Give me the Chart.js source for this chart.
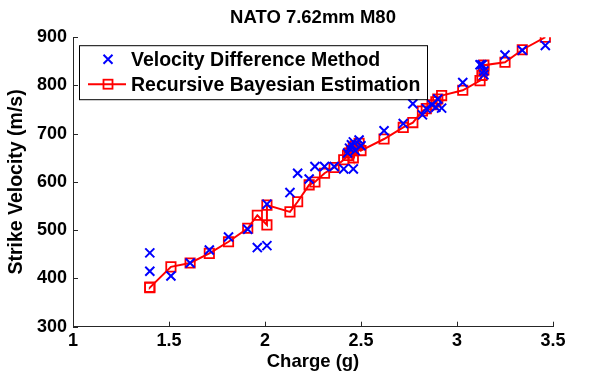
<!DOCTYPE html>
<html>
<head>
<meta charset="utf-8">
<script src="https://cdn.jsdelivr.net/npm/chart.js@4"></script>
<style>
  html, body { margin: 0; padding: 0; background: #fff; }
  #wrap { width: 591px; height: 377px; }
</style>
</head>
<body>
<div id="wrap"><canvas id="chart" width="591" height="377"></canvas></div>
<script>
// Datos
const charge = [1.40, 1.40, 1.51, 1.61, 1.71, 1.81, 1.91, 1.96, 2.01, 2.01,
  2.13, 2.17, 2.23, 2.26, 2.31, 2.36, 2.41, 2.43, 2.44, 2.45,
  2.46, 2.46, 2.47, 2.49, 2.50, 2.62, 2.72, 2.77, 2.82, 2.84,
  2.87, 2.89, 2.90, 2.92, 3.03, 3.12, 3.13, 3.14, 3.14, 3.25,
  3.34, 3.46];
const velocityDiff = [453, 415, 405, 432, 459, 486, 502, 464, 468, 554,
  578, 618, 606, 632, 632, 632, 627, 660, 670, 677,
  627, 683, 665, 687, 675, 706, 721, 762, 739, 752,
  760, 755, 772, 753, 806, 843, 843, 830, 822, 863,
  873, 883];
const bayesian = [382, 381, 424, 432, 452, 476, 504, 531, 511, 552,
  538, 559, 594, 600, 618, 630, 646, 655, 660, 665,
  650, 670, 675, 680, 665, 689, 713, 723, 747, 752,
  760, 766, 772, 779, 790, 810, 821, 832, 842, 848,
  874, 900];
const xTicks = { min: 1, max: 3.5, step: 0.5 };
const yTicks = { min: 300, max: 900, step: 100 };
const seriesNames = ['Velocity Difference Method', 'Recursive Bayesian Estimation'];

const FONT = "'Liberation Sans', Arial, sans-serif";
const BLUE = '#0000ff';
const RED = '#ff0000';

// Marcas de escala hacia dentro (estilo MATLAB)
const inwardTicks = {
  id: 'inwardTicks',
  afterDraw(chart) {
    const { ctx, chartArea, scales } = chart;
    ctx.save();
    ctx.strokeStyle = '#262626';
    ctx.lineWidth = 1;
    ctx.beginPath();
    scales.x.ticks.forEach(t => {
      const px = Math.round(scales.x.getPixelForValue(t.value)) + 0.5;
      ctx.moveTo(px, chartArea.bottom);
      ctx.lineTo(px, chartArea.bottom - 5);
    });
    scales.y.ticks.forEach(t => {
      const py = Math.round(scales.y.getPixelForValue(t.value)) + 0.5;
      ctx.moveTo(chartArea.left, py);
      ctx.lineTo(chartArea.left + 5, py);
    });
    ctx.stroke();
    ctx.restore();
  }
};

// Leyenda con recuadro
const boxedLegend = {
  id: 'boxedLegend',
  afterDraw(chart) {
    const { ctx, chartArea } = chart;
    const x0 = chartArea.left + 6, y0 = chartArea.top + 8;
    const w = 348, h = 54;
    ctx.save();
    ctx.fillStyle = '#fff';
    ctx.fillRect(x0, y0, w, h);
    ctx.strokeStyle = '#000';
    ctx.lineWidth = 1;
    ctx.strokeRect(x0 + 0.5, y0 + 0.5, w, h);

    const row1 = y0 + 14, row2 = y0 + 39;
    const mx = x0 + 29;
    // cruz azul
    ctx.strokeStyle = BLUE;
    ctx.lineWidth = 2;
    ctx.beginPath();
    ctx.moveTo(mx - 4.5, row1 - 4.5); ctx.lineTo(mx + 4.5, row1 + 4.5);
    ctx.moveTo(mx + 4.5, row1 - 4.5); ctx.lineTo(mx - 4.5, row1 + 4.5);
    ctx.stroke();
    // línea y cuadrado rojos
    ctx.strokeStyle = RED;
    ctx.beginPath();
    ctx.moveTo(x0 + 9, row2); ctx.lineTo(x0 + 47, row2);
    ctx.stroke();
    ctx.lineWidth = 1.8;
    ctx.strokeRect(mx - 4.5, row2 - 4.5, 9, 9);

    ctx.fillStyle = '#000';
    ctx.font = `bold 19.5px ${FONT}`;
    ctx.textBaseline = 'middle';
    ctx.fillText(seriesNames[0], x0 + 52, row1 + 1);
    ctx.fillText(seriesNames[1], x0 + 52, row2 + 1);
    ctx.restore();
  }
};

const ctx = document.getElementById('chart').getContext('2d');
new Chart(ctx, {
  type: 'scatter',
  data: {
    datasets: [{
      label: seriesNames[0],
      data: charge.map((c, i) => ({ x: c, y: velocityDiff[i] })),
      showLine: false,
      pointStyle: 'crossRot',
      pointRadius: 6.4,
      pointBorderWidth: 2,
      borderColor: BLUE,
      backgroundColor: BLUE
    }, {
      label: seriesNames[1],
      data: charge.map((c, i) => ({ x: c, y: bayesian[i] })),
      showLine: true,
      borderColor: RED,
      borderWidth: 2,
      pointStyle: 'rect',
      pointRadius: 6.6,
      pointBorderWidth: 1.8,
      pointBackgroundColor: 'rgba(0,0,0,0)',
      pointBorderColor: RED
    }]
  },
  options: {
    responsive: false,
    animation: false,
    events: [],
    layout: { padding: { left: 0, right: 38, top: 0, bottom: 0 } },
    plugins: {
      legend: { display: false },
      tooltip: { enabled: false },
      title: {
        display: true,
        fullSize: false,
        text: 'NATO 7.62mm M80',
        color: '#000',
        font: { family: FONT, size: 18.5, weight: 'bold' },
        padding: { top: 7, bottom: 8 }
      }
    },
    scales: {
      x: {
        type: 'linear',
        min: xTicks.min, max: xTicks.max,
        afterFit: s => { s.height = 50.3; },
        ticks: {
          stepSize: xTicks.step,
          callback: v => String(+v.toFixed(2)),
          color: '#000',
          padding: 4,
          font: { family: FONT, size: 18, weight: 'bold' }
        },
        grid: { display: true, drawOnChartArea: false, drawTicks: false },
        border: { display: true, color: '#262626', width: 1 },
        title: {
          display: true,
          text: 'Charge (g)',
          color: '#000',
          font: { family: FONT, size: 18.5, weight: 'bold' },
          padding: { top: 0, bottom: 4 }
        }
      },
      y: {
        type: 'linear',
        min: yTicks.min, max: yTicks.max,
        afterFit: s => { s.width = 73; },
        ticks: {
          stepSize: yTicks.step,
          color: '#000',
          padding: 6,
          font: { family: FONT, size: 18, weight: 'bold' }
        },
        grid: { display: true, drawOnChartArea: false, drawTicks: false },
        border: { display: true, color: '#262626', width: 1 },
        title: {
          display: true,
          text: 'Strike Velocity (m/s)',
          color: '#000',
          font: { family: FONT, size: 19.5, weight: 'bold' },
          padding: { top: 5, bottom: 0 }
        }
      }
    }
  },
  plugins: [inwardTicks, boxedLegend]
});
</script>
</body>
</html>
